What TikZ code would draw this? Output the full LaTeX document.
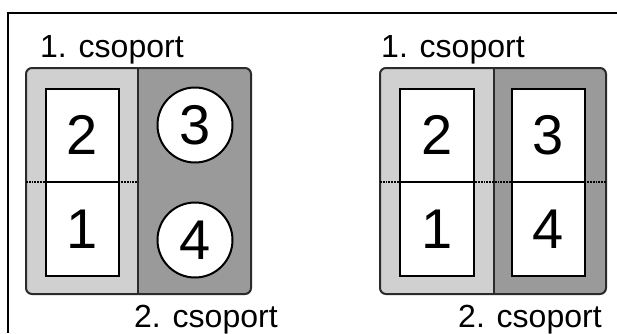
\documentclass[tikz,border=0pt]{standalone}
\usepackage{fontspec}
\setmainfont{Liberation Sans}
\usepackage{xcolor}
\definecolor{lightpanel}{HTML}{D0D0D0}
\definecolor{darkpanel}{HTML}{9A9A9A}
\definecolor{rim}{HTML}{2B2B2B}
\tikzset{
    panel/.style={draw=rim,line width=2pt,rounded corners=6pt},
    page/.style={draw,fill=white,line width=2pt,minimum width=73pt,minimum height=93.5pt,inner sep=0pt,font=\fontsize{56}{56}\selectfont},
    disc/.style={draw,fill=white,circle,line width=2pt,minimum size=75pt,inner sep=0pt,font=\fontsize{56}{56}\selectfont},
    group/.style={anchor=base west,inner sep=0pt,font=\fontsize{32}{32}\selectfont},
    fold/.style={line width=1.8pt,densely dotted}
}

\begin{document}
\begin{tikzpicture}[x=1pt,y=-1pt]
\useasboundingbox (0,0) rectangle (617,333);
\draw[line width=2pt] (617,13) -- (8,13) -- (8,333);
% left sheet
\begin{scope}
\clip[rounded corners=6pt] (26,68) rectangle (251,294);
\fill[lightpanel] (26,68) rectangle (138,294);
\fill[darkpanel] (138,68) rectangle (251,294);
\end{scope}
\draw[panel] (26,68) rectangle (251,294);
\draw[draw=rim,line width=2pt] (138,68) -- (138,294);
\draw[fold] (26,182) -- (138,182);
\node[page] (l2) at (82.5,135.25) {2};
\node[page] (l1) at (82.5,228.75) {1};
\node[disc] (l3) at (195,125) {3};
\node[disc] (l4) at (195,240) {4};
\node[group] (lt) at (40,57) {1. csoport};
\node[group] (lb) at (134,327) {2. csoport};
% right sheet
\begin{scope}
\clip[rounded corners=6pt] (380,68) rectangle (606,294);
\fill[lightpanel] (380,68) rectangle (494,294);
\fill[darkpanel] (494,68) rectangle (606,294);
\end{scope}
\draw[panel] (380,68) rectangle (606,294);
\draw[draw=rim,line width=2pt] (494,68) -- (494,294);
\draw[fold] (380,182) -- (606,182);
\node[page,minimum width=74pt] (r2) at (437,135.25) {2};
\node[page,minimum width=74pt] (r1) at (437,228.75) {1};
\node[page] (r3) at (548.5,135.25) {3};
\node[page] (r4) at (548.5,228.75) {4};
\node[group] (rt) at (381,57) {1. csoport};
\node[group] (rb) at (458,327) {2. csoport};
\end{tikzpicture}
\end{document}
